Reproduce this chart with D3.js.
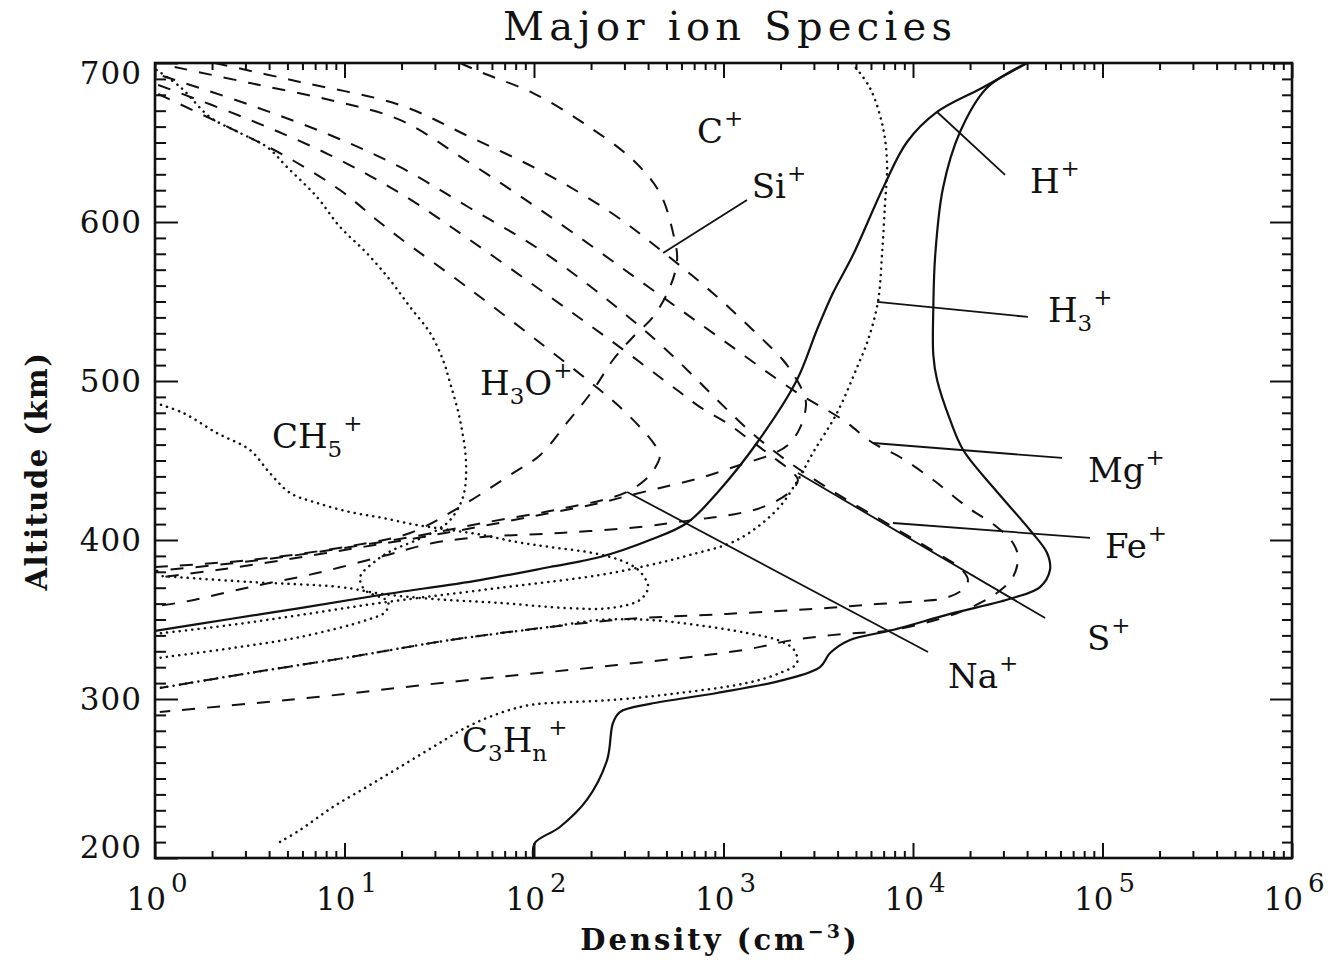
<!DOCTYPE html>
<html>
<head>
<meta charset="utf-8">
<script src="https://cdn.jsdelivr.net/npm/d3@7"></script>
<style>
  html, body { margin: 0; padding: 0; background: #fff; }
  svg { display: block; }
  text { font-family: "DejaVu Serif", "Liberation Serif", serif; fill: #111; }
</style>
</head>
<body>
<svg id="chart" width="1328" height="965"></svg>
<script>
// Profiles: [altitude (km), density (cm^-3)]
const totalIons = [[700,4.0e4],[684.3,2.45e4],[656.6,1.77e4],[621.4,1.44e4],[579.2,1.31e4],[545.9,1.28e4],[516.4,1.28e4],[500.6,1.34e4],[475.5,1.57e4],[456.6,1.84e4],[433.3,2.64e4],[406.3,4.14e4],[391.8,5.1e4],[381.1,5.28e4],[370.4,4.68e4],[363.5,3.37e4],[353.5,1.57e4],[343.4,7.8e3],[337.1,4.65e3],[328.9,3.65e3],[320.1,3.23e3],[311.9,2.06e3],[303.8,925],[296.9,409],[291.8,284],[284.9,261],[261.6,243],[236.5,190],[219.5,137],[209.4,101],[200,99]];
const hPlus = [[700,4.0e4],[684.3,2.31e4],[669.2,1.34e4],[650.3,9.3e3],[621.4,6.95e3],[579.2,4.82e3],[555.3,3.78e3],[532.1,3.11e3],[500.6,2.44e3],[461.0,1.5e3],[429.6,925],[410.7,641],[400.0,409],[389.3,223],[383.0,121],[374.8,51.9],[365.4,15.4],[357.2,5.82],[350.3,2.49],[342.8,1.0]];
const h3Plus = [[700,4.76e3],[684.3,5.93e3],[659.1,6.95e3],[635.8,7.3e3],[610.7,7.11e3],[579.2,6.86e3],[549.7,6.53e3],[525.8,5.79e3],[510.1,5.13e3],[479.9,3.97e3],[454.7,2.96e3],[437.7,2.47e3],[418.9,1.91e3],[400.0,1.18e3],[390.6,665],[384.3,409],[378.0,223],[368.6,53.8],[360.4,15.4],[352.8,5.82],[346.5,2.49],[340.9,1.0]];
const h3oPlus = [[695.6,1.02],[684.9,1.36],[666.0,1.95],[656.0,2.81],[647.2,3.90],[634.6,4.97],[615.7,7.16],[596.9,9.47],[580.5,13.1],[563.5,17.4],[546.5,22.2],[530.2,28.3],[513.2,33.1],[498.7,36.1],[475.5,40.7],[448.4,43.8],[427.0,42.2],[412.6,36.1],[406.3,30.8],[400.0,24.1],[393.7,18.0],[387.4,14.8],[376.7,12.1],[368.6,12.8],[361.0,17.0],[354.7,16.4],[349.7,13.1],[339.0,5.82],[332.1,2.58],[325.8,1.04]];
const ch5Plus = [[486.2,1.0],[479.9,1.41],[467.3,2.12],[456.6,3.17],[442.1,4.04],[429.6,5.16],[423.3,7.16],[417.6,10.7],[413.8,16.0],[409.4,24.1],[406.3,36.1],[403.1,53.8],[398.7,81.3],[395.6,121],[391.8,205],[387.4,284],[381.8,350],[374.8,390],[369.8,400],[362.3,362],[357.2,252],[357.2,149],[360.4,66.2],[362.9,29.3],[366.0,16.0],[370.4,9.47],[373.6,3.17],[377.4,1.06]];
const c3hnPlus = [[210.1,4.57],[217.6,5.82],[232.1,8.69],[244.7,13.1],[257.2,19.6],[269.8,29.3],[282.4,44.3],[291.2,66.2],[296.2,95.2],[298.1,155],[299.4,261],[303.8,589],[310.1,1.33e3],[316.4,1.99e3],[322.6,2.44e3],[330.8,2.36e3],[336.5,1.99e3],[341.5,1.33e3],[346.5,725],[349.7,409],[349.7,223],[345.3,121],[337.1,36.1],[326.4,10.7],[316.4,3.17],[306.9,1.06]];
const cPlus = [[700,40.7],[693.7,53.8],[681.1,98.8],[662.3,182],[639.0,333],[618.2,462],[593.1,542],[576.1,569],[559.1,522],[540.3,425],[527.7,333],[513.2,261],[494.3,205],[473.6,149],[453.5,108],[442.1,77.5],[420.8,40.7],[404.4,22.2],[396.2,10.7],[387.4,3.17],[383.0,1.0]];
const siPlus = [[700,2.07],[688.1,5.82],[673.6,19.6],[653.5,45.9],[630.8,114],[606.3,252],[581.1,480],[554.1,902],[527.7,1.56e3],[513.2,2.06e3],[500.6,2.44e3],[489.9,2.69e3],[483.6,2.72e3],[470.4,2.53e3],[459.7,2.19e3],[453.5,1.76e3],[447.2,1.22e3],[439.0,752],[432.7,462],[427.7,310],[423.3,223],[417.0,121],[408.8,53.8],[401.3,24.1],[394.3,10.7],[387.4,4.74],[381.1,2.12],[376.1,1.0]];
const naPlus = [[680.5,1.04],[659.1,2.49],[640.9,4.97],[620.1,9.47],[601.3,14.8],[589.9,19.6],[559.1,44.3],[523.9,108],[494.3,223],[483.6,284],[471.1,362],[459.7,435],[453.5,462],[445.3,435],[437.7,385],[430.2,310],[425.2,231],[420.8,155],[418.2,121],[410.7,53.8],[402.5,24.1],[395.6,10.7],[389.3,4.74],[384.3,2.12],[380.5,1.0]];
const sPlus = [[686.2,1.04],[664.2,3.17],[642.1,8.38],[618.2,19.6],[588.7,45.9],[555.3,114],[525.8,252],[494.3,569],[483.6,752],[473.6,1.04e3],[462.9,1.38e3],[452.2,1.82e3],[444.0,2.24e3],[437.7,2.47e3],[430.2,2.24e3],[420.8,1.62e3],[415.7,1.08e3],[412.6,690],[408.2,362],[404.4,137],[401.9,53.8],[398.1,29.3],[389.9,16.0],[379.2,7.16],[370.4,3.17],[361.0,1.41],[358.5,1.0]];
const fePlus = [[691.8,1.10],[673.6,3.17],[654.7,8.38],[634.6,19.6],[608.8,45.9],[580.5,114],[528.9,409],[462.9,1.56e3],[435.8,3.23e3],[408.2,7.84e3],[390.6,1.39e4],[382.4,1.77e4],[374.8,1.95e4],[368.6,1.82e4],[363.5,1.48e4],[361.6,1.09e4],[359.7,6.46e3],[357.2,3.52e3],[353.5,1.04e3],[350.3,310],[345.3,121],[337.1,36.1],[326.4,10.7],[316.4,3.17],[306.9,1.06]];
const mgPlus = [[697.5,1.27],[687.4,3.17],[676.7,8.38],[664.2,19.6],[637.1,45.9],[605.7,114],[558.5,409],[527.0,959],[494.3,2.33e3],[475.5,4.27e3],[461.0,6.15e3],[452.2,8.53e3],[437.7,1.28e4],[420.8,1.93e4],[408.2,2.77e4],[398.1,3.37e4],[389.3,3.58e4],[376.7,3.37e4],[366.7,2.77e4],[354.7,1.77e4],[343.4,7.84e3],[340.9,4.27e3],[337.1,2.33e3],[330.8,1.27e3],[321.4,274],[310.7,36.1],[301.3,7.16],[291.8,1.06]];

// Axis ticks
const densityDecades = [1e0, 1e1, 1e2, 1e3, 1e4, 1e5, 1e6];
const decadeExponents = ["0", "1", "2", "3", "4", "5", "6"];
const altitudeTicks = [200, 300, 400, 500, 600, 700];

// Species labels: text parts, anchor [altitude, density], leader line [from, to]
const labelParts = [
  [["C"], ["+", "sup"]],
  [["Si"], ["+", "sup"]],
  [["H"], ["+", "sup"]],
  [["H"], ["3", "sub"], ["+", "sup"]],
  [["H"], ["3", "sub"], ["O"], ["+", "sup"]],
  [["CH"], ["5", "sub"], ["+", "sup"]],
  [["Mg"], ["+", "sup"]],
  [["Fe"], ["+", "sup"]],
  [["S"], ["+", "sup"]],
  [["Na"], ["+", "sup"]],
  [["C"], ["3", "sub"], ["H"], ["n", "sub"], ["+", "sup"]]
];
const labelAnchors = [[649.7, 725], [615.1, 1.41e3], [618.2, 4.14e4], [537.1, 5.15e4], [491.2, 51.9], [457.9, 4.14], [436.5, 8.38e4], [388.7, 1.03e5], [330.8, 8.28e4], [306.9, 1.53e4], [266.7, 41.7]];
const leaderLines = [
  [[613.8, 1.33e3], [580.5, 480]],
  [[629.6, 3.06e4], [669.2, 1.34e4]],
  [[540.3, 4.04e4], [549.7, 6.46e3]],
  [[451.6, 6.11e4], [461.0, 6.15e3]],
  [[401.3, 8.59e4], [410.7, 7.84e3]],
  [[350.9, 4.98e4], [442.1, 2.47e3]],
  [[329.6, 1.2e4], [430.2, 310]]
];

const svg = d3.select("#chart");
const plotLeft = 155, plotRight = 1292, plotTop = 63, plotBottom = 858;

const x = d3.scaleLog().domain([1, 1e6]).range([plotLeft, plotRight]);
const y = d3.scaleLinear().domain([200, 700]).range([plotBottom, plotTop]);

svg.append("defs").append("clipPath").attr("id", "plotClip")
  .append("rect").attr("x", plotLeft).attr("y", plotTop)
  .attr("width", plotRight - plotLeft).attr("height", plotBottom - plotTop);

// Profiles
const series = [
  { data: totalIons, kind: "solid" },
  { data: hPlus, kind: "solid" },
  { data: h3Plus, kind: "dot" },
  { data: h3oPlus, kind: "dot" },
  { data: ch5Plus, kind: "dot" },
  { data: c3hnPlus, kind: "dot" },
  { data: cPlus, kind: "dash" },
  { data: siPlus, kind: "dash" },
  { data: naPlus, kind: "dash" },
  { data: sPlus, kind: "dash" },
  { data: fePlus, kind: "dash" },
  { data: mgPlus, kind: "dash" }
];

const line = d3.line()
  .x(d => x(d[1]))
  .y(d => y(d[0]))
  .curve(d3.curveCatmullRom.alpha(0.5));

const plot = svg.append("g").attr("clip-path", "url(#plotClip)");
series.forEach(s => {
  const p = plot.append("path")
    .attr("d", line(s.data))
    .attr("fill", "none")
    .attr("stroke", "#111");
  if (s.kind === "solid") {
    p.attr("stroke-width", 2.2);
  } else if (s.kind === "dash") {
    p.attr("stroke-width", 2).attr("stroke-dasharray", "13,12");
  } else {
    p.attr("stroke-width", 2.5).attr("stroke-dasharray", "0.1,6.2").attr("stroke-linecap", "round");
  }
});

// Leader lines
leaderLines.forEach(([a, b]) => {
  svg.append("line")
    .attr("x1", x(a[1])).attr("y1", y(a[0]))
    .attr("x2", x(b[1])).attr("y2", y(b[0]))
    .attr("stroke", "#111").attr("stroke-width", 1.8);
});

// Species labels
function richText(sel, parts, baseSize, smallSize) {
  let off = 0;
  parts.forEach(([t, k]) => {
    const target = k === "sup" ? -17 : k === "sub" ? 9 : 0;
    sel.append("tspan")
      .attr("dy", target - off)
      .attr("dx", k === "sup" ? 1 : 0)
      .attr("font-size", k ? smallSize : baseSize)
      .text(t);
    off = target;
  });
}
labelParts.forEach((parts, i) => {
  const [alt, dens] = labelAnchors[i];
  const t = svg.append("text").attr("x", x(dens)).attr("y", y(alt));
  richText(t, parts, 34, 23);
});

// Ticks (inward on all four sides)
const minorDensity = [];
for (let e = 0; e < 6; e++) for (let m = 2; m <= 9; m++) minorDensity.push(m * Math.pow(10, e));
const minorAltitude = d3.range(200, 701, 10).filter(v => v % 100 !== 0);

function tickAxis(axis, tx, ty) {
  const g = svg.append("g").attr("transform", `translate(${tx},${ty})`).call(axis);
  g.select(".domain").remove();
  g.selectAll("line").attr("stroke", "#111").attr("stroke-width", 2);
  g.selectAll("text").remove();
}
tickAxis(d3.axisBottom(x).tickValues(densityDecades).tickSize(-15), 0, plotBottom);
tickAxis(d3.axisBottom(x).tickValues(minorDensity).tickSize(-7), 0, plotBottom);
tickAxis(d3.axisTop(x).tickValues(densityDecades).tickSize(-15), 0, plotTop);
tickAxis(d3.axisTop(x).tickValues(minorDensity).tickSize(-7), 0, plotTop);
tickAxis(d3.axisLeft(y).tickValues(altitudeTicks).tickSize(-23), plotLeft, 0);
tickAxis(d3.axisLeft(y).tickValues(minorAltitude).tickSize(-11), plotLeft, 0);
tickAxis(d3.axisRight(y).tickValues(altitudeTicks).tickSize(-22), plotRight, 0);
tickAxis(d3.axisRight(y).tickValues(minorAltitude).tickSize(-10), plotRight, 0);

// Frame
svg.append("rect")
  .attr("x", plotLeft).attr("y", plotTop)
  .attr("width", plotRight - plotLeft).attr("height", plotBottom - plotTop)
  .attr("fill", "none").attr("stroke", "#111").attr("stroke-width", 2.6);

// Density tick labels
densityDecades.forEach((v, i) => {
  const t = svg.append("text")
    .attr("x", x(v) + 2).attr("y", 910)
    .attr("text-anchor", "middle")
    .attr("font-size", 31);
  t.append("tspan").text("10");
  t.append("tspan").attr("dx", 5).attr("dy", -18).attr("font-size", 26).text(decadeExponents[i]);
});

// Altitude tick labels
altitudeTicks.forEach(v => {
  const yy = Math.min(Math.max(y(v) + 11, 84), 858);
  svg.append("text")
    .attr("x", 142).attr("y", yy)
    .attr("text-anchor", "end")
    .attr("font-size", 31)
    .attr("letter-spacing", 1)
    .text(v);
});

// Title and axis titles
svg.append("text")
  .attr("x", 503).attr("y", 40)
  .attr("font-size", 40)
  .attr("textLength", 449).attr("lengthAdjust", "spacing")
  .text("Major ion Species");

const xt = svg.append("text")
  .attr("x", 720).attr("y", 950)
  .attr("text-anchor", "middle")
  .attr("font-size", 29).attr("font-weight", "bold")
  .attr("letter-spacing", 3);
xt.append("tspan").text("Density (cm");
xt.append("tspan").attr("dy", -12).attr("font-size", 19).text("−3");
xt.append("tspan").attr("dy", 12).text(")");

svg.append("text")
  .attr("transform", "translate(47,471) rotate(-90)")
  .attr("text-anchor", "middle")
  .attr("font-size", 29).attr("font-weight", "bold")
  .attr("letter-spacing", 1.5)
  .text("Altitude (km)");
</script>
</body>
</html>
